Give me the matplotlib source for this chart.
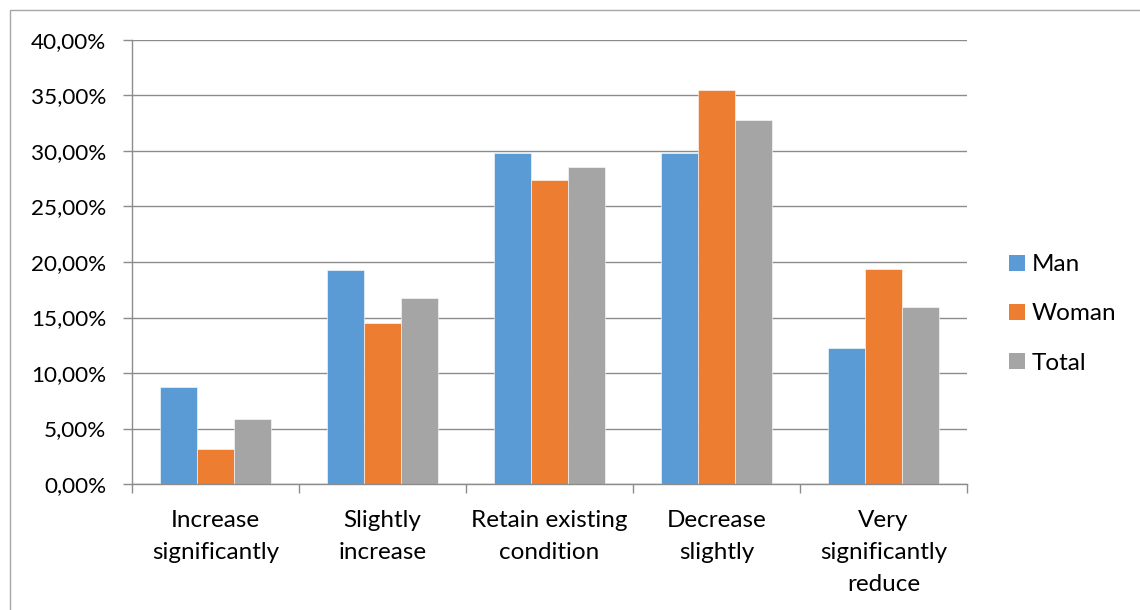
import matplotlib
matplotlib.use("Agg")
import matplotlib.pyplot as plt
from matplotlib.patches import Rectangle, Patch
from matplotlib.ticker import FuncFormatter, FixedLocator
import numpy as np

categories = ["Increase\nsignificantly", "Slightly\nincrease", "Retain existing\ncondition",
              "Decrease\nslightly", "Very\nsignificantly\nreduce"]
series_names = ["Man", "Woman", "Total"]
man = [8.75, 19.28, 29.80, 29.80, 12.25]
woman = [3.16, 14.50, 27.40, 35.50, 19.35]
total = [5.85, 16.77, 28.57, 32.77, 15.95]
yticks = [0, 5, 10, 15, 20, 25, 30, 35, 40]

colors = ["#5B9BD5", "#ED7D31", "#A5A5A5"]
grid_c = "#8C8C8C"

plt.rcParams['font.family'] = ['Lato', 'DejaVu Sans']
W, H = 1140, 610
fig = plt.figure(figsize=(W / 100, H / 100), dpi=100)
L, R, T, B = 132, 967, 40, 484
ax = fig.add_axes([L / W, 1 - B / H, (R - L) / W, (B - T) / H])

n = len(categories)
x = np.arange(n)
bw = 0.2222
data = [man, woman, total]
for i, (vals, c, name) in enumerate(zip(data, colors, series_names)):
    ax.bar(x + (i - 1) * bw, vals, width=bw, color=c, label=name, zorder=3,
           edgecolor='white', linewidth=0.4)

ax.set_xlim(-0.5, n - 0.5)
ax.set_ylim(0, 40)
ax.set_yticks(yticks)
ax.yaxis.set_major_formatter(FuncFormatter(lambda v, p: f"{v:.2f}".replace(".", ",") + "%"))
ax.grid(axis='y', color=grid_c, linewidth=1.0, zorder=0)
ax.tick_params(axis='y', length=6.5, width=1.0, color=grid_c, pad=12, labelsize=16.2, labelcolor='#000000')

ax.xaxis.set_major_locator(FixedLocator(np.arange(-0.5, n, 1.0)))
ax.xaxis.set_minor_locator(FixedLocator(x))
ax.set_xticklabels([""] * (n + 1))
ax.set_xticklabels(categories, minor=True, fontsize=17.5, linespacing=1.66, va='top')
ax.tick_params(axis='x', which='major', length=6.5, width=1.0, color=grid_c)
ax.tick_params(axis='x', which='minor', length=0, pad=18.5)

for s in ['top', 'right']:
    ax.spines[s].set_visible(False)
for s in ['left', 'bottom']:
    ax.spines[s].set_color(grid_c)
    ax.spines[s].set_linewidth(1.0)
    ax.spines[s].set_zorder(4)

handles = [Patch(facecolor=c, label=nm) for c, nm in zip(colors, series_names)]
fig.legend(handles=handles, loc='center left', bbox_to_anchor=(1009 / W, 1 - 314 / H),
           frameon=False, fontsize=17.5, handlelength=0.66, handleheight=0.66,
           handletextpad=0.28, labelspacing=1.16, borderpad=0, borderaxespad=0)

fig.patches.append(Rectangle((10 / W, -0.1), 2.0, 1.1 - 10 / H, transform=fig.transFigure,
                             fill=False, edgecolor='#A6A6A6', linewidth=1.0))

fig.savefig("out.png", dpi=100)
